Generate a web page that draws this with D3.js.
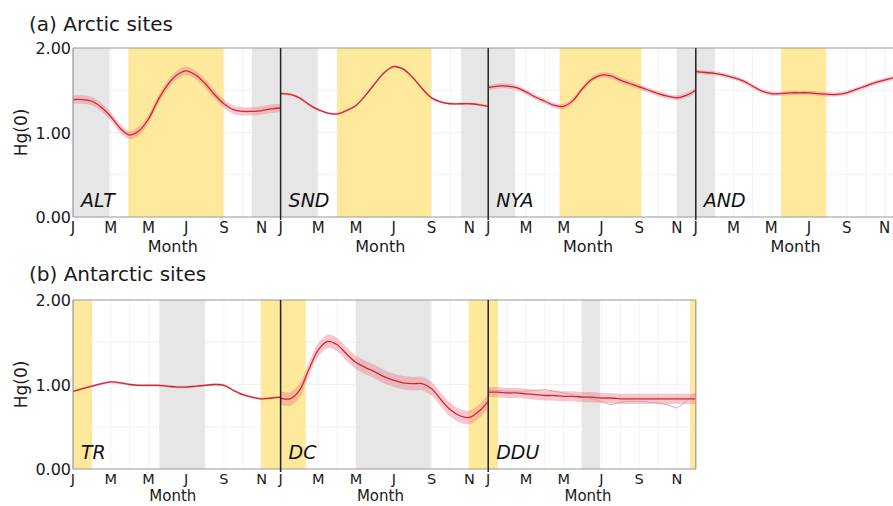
<!DOCTYPE html>
<html>
<head>
<meta charset="utf-8">
<script src="https://cdn.jsdelivr.net/npm/d3@7"></script>
<style>
  html, body { margin: 0; padding: 0; background: #fff; }
  svg { display: block; font-family: "DejaVu Sans", sans-serif; }
</style>
</head>
<body>
<svg id="chart" width="893" height="506"></svg>
<script>
// Half-month sampling positions (1 = January ... 12 = December)
const months = [1, 1.5, 2, 2.5, 3, 3.5, 4, 4.5, 5, 5.5, 6, 6.5, 7, 7.5, 8, 8.5, 9, 9.5, 10, 10.5, 11, 11.5, 12];

// Arctic sites: mean Hg(0) (ng m-3)
const altHg = [1.39, 1.39, 1.37, 1.30, 1.19, 1.05, 0.97, 1.02, 1.16, 1.38, 1.56, 1.68, 1.73, 1.68, 1.58, 1.45, 1.34, 1.27, 1.25, 1.25, 1.26, 1.28, 1.29];
const sndHg = [1.46, 1.45, 1.41, 1.33, 1.27, 1.23, 1.22, 1.26, 1.32, 1.44, 1.58, 1.71, 1.78, 1.75, 1.65, 1.52, 1.41, 1.36, 1.34, 1.34, 1.34, 1.33, 1.31];
const nyaHg = [1.53, 1.55, 1.55, 1.53, 1.48, 1.42, 1.37, 1.32, 1.31, 1.38, 1.52, 1.63, 1.68, 1.67, 1.62, 1.58, 1.54, 1.50, 1.46, 1.43, 1.41, 1.44, 1.50];
const andHg = [1.72, 1.71, 1.70, 1.68, 1.65, 1.61, 1.55, 1.49, 1.46, 1.46, 1.47, 1.47, 1.47, 1.46, 1.45, 1.45, 1.47, 1.51, 1.55, 1.59, 1.62, 1.65, 1.68];

// Antarctic sites: mean Hg(0)
const trHg  = [0.92, 0.95, 0.98, 1.01, 1.03, 1.02, 1.00, 0.99, 0.99, 0.99, 0.98, 0.97, 0.97, 0.98, 0.99, 1.00, 0.99, 0.93, 0.88, 0.85, 0.83, 0.84, 0.85];
const dcHg  = [0.84, 0.83, 0.93, 1.18, 1.41, 1.51, 1.47, 1.36, 1.26, 1.20, 1.15, 1.09, 1.05, 1.02, 1.01, 1.01, 0.95, 0.82, 0.70, 0.63, 0.61, 0.68, 0.80];
const dduHg = [0.91, 0.91, 0.90, 0.90, 0.89, 0.88, 0.87, 0.87, 0.86, 0.86, 0.85, 0.85, 0.84, 0.84, 0.83, 0.83, 0.83, 0.83, 0.83, 0.83, 0.83, 0.83, 0.83];
const dduRaw = [0.93, 0.93, 0.92, 0.92, 0.92, 0.93, 0.94, 0.92, 0.90, 0.88, 0.86, 0.83, 0.80, 0.76, 0.79, 0.80, 0.80, 0.79, 0.78, 0.76, 0.72, 0.80, 0.90];

// Uncertainty half-widths of the shaded envelope
const bandWidth = { ALT: 0.05, SND: 0.015, NYA: 0.03, AND: 0.025, TR: 0.015, DC: 0.08, DDU: 0.06 };

// Seasonal periods [start month, end month]
const darkPeriods = {
  ALT: [[1, 2.93], [10.47, 12]], SND: [[1, 2.95], [10.57, 12]], NYA: [[1, 2.42], [11.0, 12]], AND: [[1, 2.0]],
  TR: [[5.57, 7.98]], DC: [[4.99, 8.94]], DDU: [[5.95, 6.92]]
};
const sunPeriods = {
  ALT: [[3.93, 8.98]], SND: [[4.0, 8.98]], NYA: [[4.78, 9.12]], AND: [[5.52, 7.91]],
  TR: [[1, 2.0], [10.95, 12]], DC: [[1, 2.33], [10.96, 12]], DDU: [[1, 1.52], [11.7, 12]]
};

const monthTicks = [1, 3, 5, 7, 9, 11];
const monthLabels = ["J", "M", "M", "J", "S", "N"];
const yTicks = [0, 1, 2];

const rows = [
  { title: "(a) Arctic sites", titleY: 31, top: 48, bottom: 217,
    tickSize: 15, tickDy: 16, monthSize: 16, monthDy: 35,
    sites: [["ALT", altHg], ["SND", sndHg], ["NYA", nyaHg], ["AND", andHg]] },
  { title: "(b) Antarctic sites", titleY: 281, top: 300, bottom: 469,
    tickSize: 14.5, tickDy: 14.5, monthSize: 15, monthDy: 32,
    sites: [["TR", trHg], ["DC", dcHg], ["DDU", dduHg, dduRaw]] }
];

const svg = d3.select("#chart");
const left0 = 73, panelW = 207.6;
const grey = "#e6e6e6", sun = "#fde89c";
const lineColor = "#cc2838", bandColor = "#ec7a88";

svg.append("clipPath").attr("id", "page").append("rect")
  .attr("x", 0).attr("y", 0).attr("width", 893).attr("height", 506);

rows.forEach((row, ri) => {
  const y = d3.scaleLinear().domain([0, 2]).range([row.bottom, row.top]);

  svg.append("text").attr("x", 29).attr("y", row.titleY)
    .attr("font-size", 20).attr("fill", "#1a1a1a").text(row.title);

  // y axis ticks on the first panel only
  svg.append("g").selectAll("text").data(yTicks).join("text")
    .attr("x", 71).attr("y", d => y(d) + 6)
    .attr("text-anchor", "end").attr("font-size", 16).attr("fill", "#1a1a1a")
    .text(d => d3.format(".2f")(d));

  svg.append("text")
    .attr("transform", `translate(27,${(row.top + row.bottom) / 2}) rotate(-90)`)
    .attr("text-anchor", "middle").attr("font-size", 17).attr("fill", "#1a1a1a")
    .text("Hg(0)");

  row.sites.forEach(([name, values, raw], i) => {
    const x0 = left0 + i * panelW;
    const x = d3.scaleLinear().domain([1, 12]).range([x0, x0 + panelW]);
    const g = svg.append("g").attr("clip-path", "url(#page)");

    // faint grid
    g.append("g").selectAll("line").data(d3.range(1, 12.01, 1)).join("line")
      .attr("x1", d => x(d)).attr("x2", d => x(d)).attr("y1", row.top).attr("y2", row.bottom)
      .attr("stroke", "#f2f2f2").attr("stroke-width", 1);
    g.append("g").selectAll("line").data([0.5, 1, 1.5]).join("line")
      .attr("x1", x0).attr("x2", x0 + panelW).attr("y1", d => y(d)).attr("y2", d => y(d))
      .attr("stroke", "#f0f0f0").attr("stroke-width", 1);

    // seasonal shading
    g.selectAll("rect.dark").data(darkPeriods[name]).join("rect").attr("class", "dark")
      .attr("x", d => x(d[0])).attr("width", d => x(d[1]) - x(d[0]))
      .attr("y", row.top).attr("height", row.bottom - row.top).attr("fill", grey);
    g.selectAll("rect.sun").data(sunPeriods[name]).join("rect").attr("class", "sun")
      .attr("x", d => x(d[0])).attr("width", d => x(d[1]) - x(d[0]))
      .attr("y", row.top).attr("height", row.bottom - row.top).attr("fill", sun);

    const pts = months.map((m, k) => ({ m, v: values[k] }));
    const w = bandWidth[name];
    g.append("path").datum(pts)
      .attr("d", d3.area().curve(d3.curveCatmullRom)
        .x(d => x(d.m)).y0(d => y(d.v - w)).y1(d => y(d.v + w)))
      .attr("fill", bandColor).attr("fill-opacity", 0.42);

    if (raw) {
      g.append("path").datum(months.map((m, k) => ({ m, v: raw[k] })))
        .attr("d", d3.line().x(d => x(d.m)).y(d => y(d.v)))
        .attr("fill", "none").attr("stroke", "#dd9aa3").attr("stroke-width", 0.9);
    }

    g.append("path").datum(pts)
      .attr("d", d3.line().curve(d3.curveCatmullRom).x(d => x(d.m)).y(d => y(d.v)))
      .attr("fill", "none").attr("stroke", lineColor).attr("stroke-width", 1.3);

    // frame: top and bottom edges
    g.append("line").attr("x1", x0).attr("x2", x0 + panelW).attr("y1", row.top).attr("y2", row.top)
      .attr("stroke", "#9a9a9a").attr("stroke-width", 1.2);
    g.append("line").attr("x1", x0).attr("x2", x0 + panelW).attr("y1", row.bottom).attr("y2", row.bottom)
      .attr("stroke", "#9a9a9a").attr("stroke-width", 1.2);
    if (i === 0) {
      g.append("line").attr("x1", x0).attr("x2", x0).attr("y1", row.top).attr("y2", row.bottom)
        .attr("stroke", "#9a9a9a").attr("stroke-width", 1.2);
    }
    if (i === row.sites.length - 1) {
      g.append("line").attr("x1", x0 + panelW).attr("x2", x0 + panelW).attr("y1", row.top).attr("y2", row.bottom)
        .attr("stroke", "#9a9a9a").attr("stroke-width", 1.2);
    }

    // site label
    g.append("text").attr("x", x0 + 8).attr("y", row.bottom - 10)
      .attr("font-size", 19).attr("font-style", "italic").attr("fill", "#111").text(name);

    // month ticks
    g.append("g").selectAll("text").data(monthTicks).join("text")
      .attr("x", d => x(d)).attr("y", row.bottom + row.tickDy)
      .attr("text-anchor", "middle").attr("font-size", row.tickSize).attr("fill", "#1a1a1a")
      .text((d, k) => monthLabels[k]);

    g.append("text").attr("x", x0 + panelW / 2 - 4).attr("y", row.bottom + row.monthDy)
      .attr("text-anchor", "middle").attr("font-size", row.monthSize).attr("fill", "#1a1a1a").text("Month");
  });

  // dark separators between adjacent panels
  svg.append("g").selectAll("line").data(d3.range(1, row.sites.length)).join("line")
    .attr("x1", i => left0 + i * panelW).attr("x2", i => left0 + i * panelW)
    .attr("y1", row.top).attr("y2", row.bottom + 3)
    .attr("stroke", "#222").attr("stroke-width", 1.5);
});
</script>
</body>
</html>
